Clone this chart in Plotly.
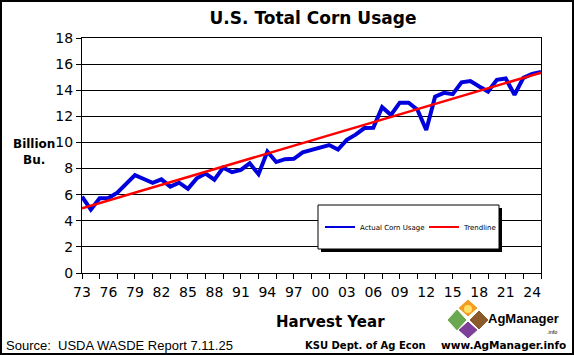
import plotly.graph_objects as go

# ---------------- data ----------------
YEARS = list(range(1973, 2026))
USAGE = [5.85, 4.85, 5.72, 5.75, 6.15, 6.87, 7.50, 7.20, 6.90, 7.17,
         6.62, 6.92, 6.45, 7.25, 7.62, 7.15, 8.07, 7.72, 7.90, 8.40,
         7.57, 9.30, 8.50, 8.72, 8.75, 9.24, 9.42, 9.67, 9.80, 9.45,
         10.20, 10.60, 11.10, 11.13, 12.70, 12.10, 13.05, 13.05, 12.50, 10.95,
         13.50, 13.80, 13.70, 14.60, 14.70, 14.28, 13.90, 14.80, 14.90, 13.65,
         14.95, 15.25, 15.40]
TREND_YEARS = [1973, 2025]
TREND_VALUES = [4.95, 15.35]
LABEL_YEARS = list(range(1973, 2025, 3))
TICK_LABELS = ["73", "76", "79", "82", "85", "88", "91", "94", "97", "00",
               "03", "06", "09", "12", "15", "18", "21", "24"]
TICK_MARK_YEARS = list(range(1973, 2026, 2))
Y_TICKS = list(range(0, 19, 2))

# ---------------- layout helpers ----------------
WIDTH, HEIGHT = 574, 355
PL, PR, PT, PB = 82, 541, 38, 273
PW, PH = PR - PL, PB - PT


def xp(px):
    return (px - PL) / PW


def yp(py):
    return (PB - py) / PH


BLUE = "#0000DD"
RED = "#FF0000"

fig = go.Figure()
fig.add_trace(go.Scatter(x=YEARS, y=USAGE, mode="lines", name="Actual Corn Usage",
                         line=dict(color=BLUE, width=4), showlegend=False))
fig.add_trace(go.Scatter(x=TREND_YEARS, y=TREND_VALUES, mode="lines", name="Trendline",
                         xaxis="x2", line=dict(color=RED, width=2.5), showlegend=False))
# legend entries (thin lines as in the reference legend)
fig.add_trace(go.Scatter(x=[None], y=[None], mode="lines", name="Actual Corn Usage",
                         line=dict(color=BLUE, width=2)))
fig.add_trace(go.Scatter(x=[None], y=[None], mode="lines", name="Trendline",
                         line=dict(color=RED, width=2)))

shapes = []
# legend box with shadow
shapes.append(dict(type="rect", xref="paper", yref="paper", layer="above",
                   x0=xp(321), x1=xp(502), y0=yp(252), y1=yp(208),
                   fillcolor="black", line=dict(width=0)))
shapes.append(dict(type="rect", xref="paper", yref="paper", layer="above",
                   x0=xp(318), x1=xp(499), y0=yp(249), y1=yp(205),
                   fillcolor="white", line=dict(color="black", width=1)))
# outer frame
shapes.append(dict(type="rect", xref="paper", yref="paper", layer="above",
                   x0=xp(1), x1=xp(573), y0=yp(354), y1=yp(1),
                   line=dict(color="black", width=2)))


def diamond(cx, cy, hw, hh, color):
    pts = [(cx, cy - hh), (cx + hw, cy), (cx, cy + hh), (cx - hw, cy)]
    path = "M " + " L ".join(f"{xp(a):.5f},{yp(b):.5f}" for a, b in pts) + " Z"
    return dict(type="path", xref="paper", yref="paper", path=path, layer="above",
                fillcolor=color, line=dict(color="white", width=1))


# AgManager logo
shapes.append(diamond(468, 308, 10, 9, "#F39C1F"))
shapes.append(diamond(457, 320, 10, 11, "#6AA84F"))
shapes.append(diamond(479, 320, 10, 10, "#8B5A2B"))
shapes.append(diamond(468, 330, 10, 9, "#7E3F98"))
shapes.append(dict(type="circle", xref="paper", yref="paper", layer="above",
                   x0=xp(464), x1=xp(472), y0=yp(313), y1=yp(305),
                   fillcolor="#FFE066", line=dict(width=0)))


def ann(text, px, py, size, family="DejaVu Sans", xanchor="center"):
    return dict(text=text, x=xp(px), y=yp(py), xref="paper", yref="paper",
                xanchor=xanchor, yanchor="middle", showarrow=False, align="center",
                font=dict(family=family, size=size, color="black"))


annotations = [
    ann("<b>Billion<br>Bu.</b>", 34, 152, 12),
    ann("<b>Harvest Year</b>", 330, 322, 15),
    ann("Source:\u00a0 USDA WASDE Report 7.11.25", 4, 345, 13,
        family="Liberation Sans", xanchor="left"),
    ann("<b>KSU Dept. of Ag Econ</b>", 365, 345, 10),
    ann("<b>www.AgManager.info</b>", 568, 345, 10.5, xanchor="right"),
    ann("<b>AgManager</b>", 486, 318, 13, family="Liberation Sans", xanchor="left"),
    ann(".info", 559, 332, 5.5, family="Liberation Sans", xanchor="right"),
]

fig.update_layout(
    width=WIDTH, height=HEIGHT,
    margin=dict(l=PL, r=WIDTH - PR, t=PT, b=HEIGHT - PB, pad=0, autoexpand=False),
    paper_bgcolor="white", plot_bgcolor="white",
    font=dict(family="DejaVu Sans", color="black"),
    title=dict(text="<b>U.S. Total Corn Usage</b>", x=313 / WIDTH, xanchor="center",
               y=1 - 18 / HEIGHT, yanchor="middle",
               font=dict(family="DejaVu Sans", size=17, color="black")),
    xaxis=dict(range=[1973, 2025], tickmode="array", tickvals=TICK_MARK_YEARS,
               ticktext=[""] * len(TICK_MARK_YEARS), ticks="outside", ticklen=5,
               tickcolor="black", showline=True, linecolor="black", linewidth=1,
               mirror=True, showgrid=False, zeroline=False),
    xaxis2=dict(range=[1973, 2025], overlaying="x", anchor="y", side="bottom",
                tickmode="array", tickvals=LABEL_YEARS, ticktext=TICK_LABELS,
                ticks="", showline=False, showgrid=False, zeroline=False,
                tickfont=dict(family="DejaVu Sans", size=14, color="black"),
                ticklabelstandoff=9),
    yaxis=dict(range=[0, 18], tickmode="array", tickvals=Y_TICKS, ticks="outside",
               ticklen=5, tickcolor="black", showline=True, linecolor="black",
               linewidth=1, mirror=True, showgrid=True, gridcolor="black",
               gridwidth=1, zeroline=False,
               tickfont=dict(family="DejaVu Sans", size=14, color="black")),
    legend=dict(orientation="h", x=xp(320), y=yp(227), xanchor="left", yanchor="middle",
                bgcolor="rgba(0,0,0,0)", borderwidth=0,
                font=dict(family="DejaVu Sans", size=7, color="black"),
                itemwidth=30, tracegroupgap=0, entrywidth=59, entrywidthmode="pixels"),
    shapes=shapes,
    annotations=annotations,
)

fig.write_html("out.html", config={"displayModeBar": False},
               post_script="document.body.style.margin='0';")
